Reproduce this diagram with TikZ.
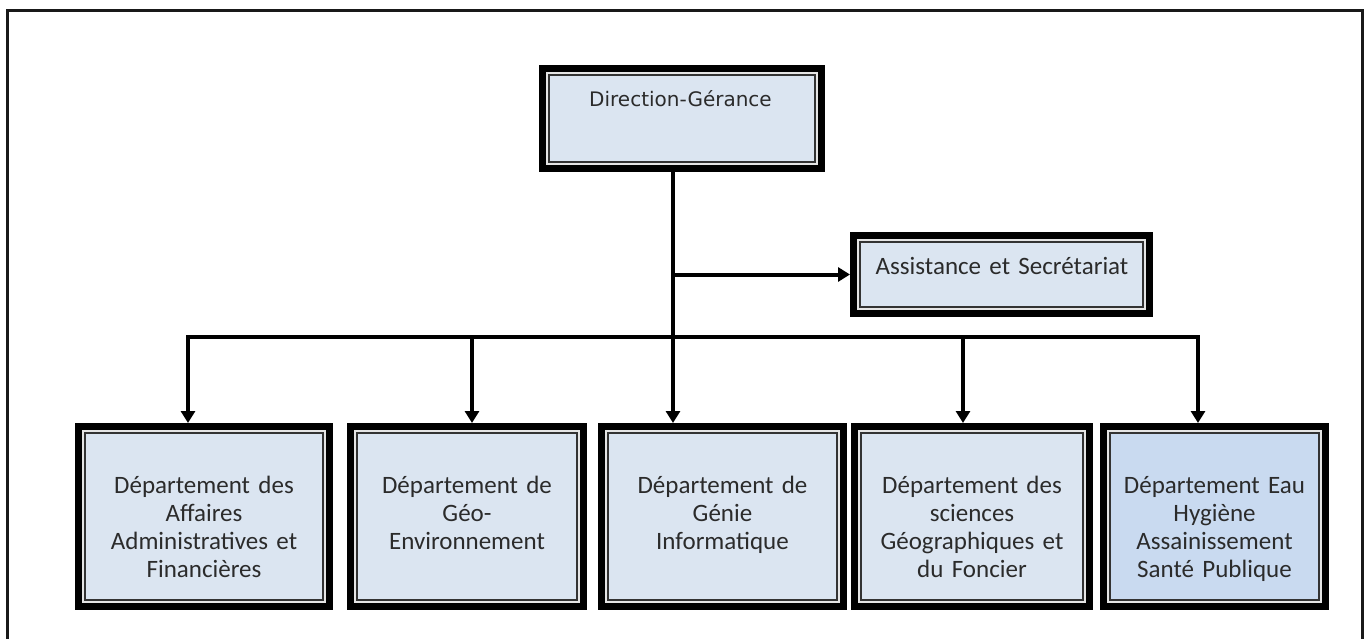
\documentclass[tikz,border=0pt]{standalone}
\usepackage{fontspec}
\setmainfont{Carlito}
\newfontfamily\djv{DejaVu Sans}
\usetikzlibrary{arrows.meta}
\definecolor{boxfill}{HTML}{DBE5F1}
\definecolor{boxfillb}{HTML}{C9DAF0}
\definecolor{txtc}{HTML}{2B2B2B}
\tikzset{
  orgbox/.style={rectangle, inner sep=0pt, outer sep=10pt, fill=boxfill,
    draw=black!80, line width=1.5pt,
    preaction={draw=black, line width=20pt},
    preaction={draw=black!10, line width=6pt}},
  boxtxt/.style={text width=240pt, align=center, anchor=base, inner sep=0pt,
    font=\fontsize{25pt}{28pt}\selectfont, text=txtc},
  conn/.style={line width=4pt, draw=black, line join=miter},
  arr/.style={conn, -{Triangle[length=12pt,width=14pt]}},
  frame/.style={line width=3pt, draw=black!90}
}
\begin{document}
\begin{tikzpicture}[x=1pt,y=-1pt]
\useasboundingbox (0,0) rectangle (1370,639);
\draw[frame] (7.5,639) -- (7.5,11) -- (1362.5,11) -- (1362.5,639);

\node[orgbox, minimum width=266pt, minimum height=87pt] (dir) at (682,118.5) {};
\node[orgbox, minimum width=283pt, minimum height=65pt] (ass) at (1001.5,274.5) {};
\node[orgbox, minimum width=238pt, minimum height=167pt] (d1) at (204,516.5) {};
\node[orgbox, minimum width=220pt, minimum height=167pt] (d2) at (467,516.5) {};
\node[orgbox, minimum width=229pt, minimum height=167pt] (d3) at (722.5,516.5) {};
\node[orgbox, minimum width=222pt, minimum height=167pt] (d4) at (972,516.5) {};
\node[orgbox, fill=boxfillb, minimum width=209pt, minimum height=167pt] (d5) at (1214.5,516.5) {};

\node[font=\djv\fontsize{20pt}{24pt}\selectfont, text=txtc, anchor=base, inner sep=0pt] (tdir) at (680.5,107) {Direction-Gérance};
\node[boxtxt, text width=290pt] (tass) at (1002,274) {Assistance et Secrétariat};
\node[boxtxt] (t1) at (204,493) {Département des\\Affaires\\Administratives et\\Financières};
\node[boxtxt] (t2) at (467,493) {Département de\\Géo-\\Environnement};
\node[boxtxt] (t3) at (722.5,493) {Département de\\Génie\\Informatique};
\node[boxtxt] (t4) at (972,493) {Département des\\sciences\\Géographiques et\\du Foncier};
\node[boxtxt] (t5) at (1214.5,493) {Département Eau\\Hygiène\\Assainissement\\Santé Publique};

\coordinate (tk) at (673,0);
\coordinate (bus1) at (188,337);
\coordinate (bus2) at (472,337);
\coordinate (bus4) at (963,337);
\coordinate (bus5) at (1198,337);

\draw[arr] (dir.south -| tk) -- (d3.north -| tk);
\draw[arr] (ass.west -| tk) -- (ass.west);
\draw[arr] (bus5) -- (bus1) -- (d1.north -| bus1);
\draw[arr] (bus1) -- (bus5) -- (d5.north -| bus5);
\draw[arr] (bus2) -- (d2.north -| bus2);
\draw[arr] (bus4) -- (d4.north -| bus4);
\end{tikzpicture}
\end{document}
